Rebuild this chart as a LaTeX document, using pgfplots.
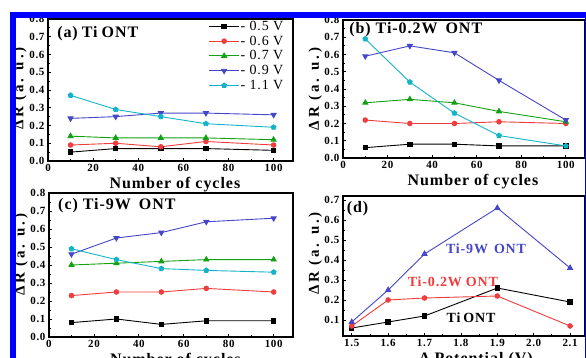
\documentclass[border=0pt]{standalone}
\usepackage{fontspec}
\setmainfont{Liberation Serif}[LetterSpace=6]
\usepackage{pgfplots}
\pgfplotsset{compat=1.18}
\usetikzlibrary{plotmarks}

\definecolor{cR}{RGB}{240,60,60}
\definecolor{cG}{RGB}{20,160,20}
\definecolor{cB}{RGB}{70,70,200}
\definecolor{cC}{RGB}{20,180,200}
\definecolor{frameblue}{RGB}{0,0,255}

\tikzset{ttl/.style={font=\bfseries\fontsize{16}{18}\selectfont, anchor=north west, inner sep=0pt}}

\pgfplotsset{
  panel/.style={
    scale only axis,
    axis line style={line width=1.1pt},
    tick align=inside, tick pos=left,
    major tick length=3pt, minor tick length=1.8pt,
    every tick/.style={line width=0.8pt, black},
    tick label style={font=\bfseries\fontsize{11}{13}\selectfont},
    /pgf/number format/assume math mode=true,
    yticklabel style={/pgf/number format/fixed,/pgf/number format/fixed zerofill,/pgf/number format/precision=1},
    xlabel style={font=\bfseries\fontsize{16}{18}\selectfont, anchor=north, yshift=-13pt},
    ylabel style={font=\bfseries\fontsize{15}{17}\selectfont\addfontfeature{LetterSpace=18}, at={(axis description cs:-0.115,0.5)}, anchor=center},
    ylabel={ΔR (a. u.)},
    every axis plot/.append style={line width=0.9pt},
    clip=false,
  },
  cyc/.style={
    panel, xmin=0, xmax=108.6, ymin=0, ymax=0.8,
    xtick={0,20,40,60,80,100}, minor x tick num=1,
    ytick={0,0.1,...,0.8}, minor y tick num=1,
    xticklabel style={/pgf/number format/fixed,/pgf/number format/precision=0},
    xlabel={Number of cycles},
  },
  sK/.style={black, mark=square*, mark size=2.2pt},
  sR/.style={cR, mark=*, mark size=2.3pt},
  sG/.style={cG, mark=triangle*, mark size=2.9pt},
  sB/.style={cB, mark=triangle*, mark options={rotate=180}, mark size=2.9pt},
  sC/.style={cC, mark=pentagon*, mark size=2.5pt},
}

\begin{document}
\begin{tikzpicture}
\useasboundingbox (0,0) rectangle (586pt,358pt);
\clip (0,0) rectangle (586pt,358pt);
\fill[white] (0,0) rectangle (586pt,358pt);

% (a)
\begin{axis}[cyc, at={(48pt,197pt)}, anchor=south west, width=245pt, height=142pt,
  xlabel style={at={(axis description cs:0.518,0)}},
  ylabel style={at={(axis description cs:-0.115,0.51)}},
  legend style={draw=none, fill=none, at={(0.965,0.995)}, anchor=north east,
    font=\fontsize{14}{15}\selectfont, inner sep=0pt, row sep=2pt,
    nodes={inner sep=1pt}},
  legend cell align=left,
  legend image code/.code={\draw[mark repeat=2,mark phase=2] plot coordinates {(0pt,0pt) (15pt,0pt) (30pt,0pt)};}]
\addplot[sK] coordinates {(10,0.05) (30,0.07) (50,0.07) (70,0.07) (100,0.06)};
\addlegendentry{- 0.5 V}
\addplot[sR] coordinates {(10,0.09) (30,0.10) (50,0.08) (70,0.11) (100,0.09)};
\addlegendentry{- 0.6 V}
\addplot[sG] coordinates {(10,0.14) (30,0.13) (50,0.13) (70,0.13) (100,0.12)};
\addlegendentry{- 0.7 V}
\addplot[sB] coordinates {(10,0.24) (30,0.25) (50,0.27) (70,0.27) (100,0.26)};
\addlegendentry{- 0.9 V}
\addplot[sC] coordinates {(10,0.37) (30,0.29) (50,0.25) (70,0.21) (100,0.19)};
\addlegendentry{- 1.1 V}
\node[ttl] at (rel axis cs:0.037,0.95) {(a)\hspace{4pt}Ti\hspace{4pt}ONT};
\end{axis}

% (b)
\begin{axis}[cyc, at={(343pt,200pt)}, anchor=south west, width=242pt, height=138pt,
  xlabel style={at={(axis description cs:0.537,0)}}]
\addplot[sK] coordinates {(10,0.06) (30,0.08) (50,0.08) (70,0.07) (100,0.07)};
\addplot[sR] coordinates {(10,0.22) (30,0.20) (50,0.20) (70,0.21) (100,0.20)};
\addplot[sG] coordinates {(10,0.32) (30,0.34) (50,0.32) (70,0.27) (100,0.21)};
\addplot[sB] coordinates {(10,0.59) (30,0.65) (50,0.61) (70,0.45) (100,0.22)};
\addplot[sC] coordinates {(10,0.69) (30,0.44) (50,0.26) (70,0.13) (100,0.07)};
\node[ttl] at (rel axis cs:0.025,0.985) {(b) Ti-0.2W\hspace{8pt}ONT};
\end{axis}

% (c)
\begin{axis}[cyc, at={(49pt,21pt)}, anchor=south west, width=244pt, height=144pt,
  xlabel style={at={(axis description cs:0.518,0)}},
  ylabel style={at={(axis description cs:-0.115,0.57)}}]
\addplot[sK] coordinates {(10,0.08) (30,0.10) (50,0.07) (70,0.09) (100,0.09)};
\addplot[sR] coordinates {(10,0.23) (30,0.25) (50,0.25) (70,0.27) (100,0.25)};
\addplot[sG] coordinates {(10,0.40) (30,0.41) (50,0.42) (70,0.43) (100,0.43)};
\addplot[sB] coordinates {(10,0.46) (30,0.55) (50,0.58) (70,0.64) (100,0.66)};
\addplot[sC] coordinates {(10,0.49) (30,0.43) (50,0.38) (70,0.37) (100,0.36)};
\node[ttl] at (rel axis cs:0.037,0.965) {(c) Ti-9W\hspace{8pt}ONT};
\end{axis}

% (d)
\begin{axis}[panel, at={(343pt,22pt)}, anchor=south west, width=242pt, height=140pt,
  xmin=1.476, xmax=2.141, ymin=0.02, ymax=0.72,
  xtick={1.5,1.6,1.7,1.8,1.9,2.0,2.1}, minor x tick num=1,
  ytick={0.1,0.2,0.3,0.4,0.5,0.6,0.7}, minor y tick num=1,
  xticklabel style={/pgf/number format/fixed,/pgf/number format/fixed zerofill,/pgf/number format/precision=1},
  xlabel={Δ Potential (V)},
  xlabel style={at={(axis description cs:0.55,0)}},
  ylabel style={at={(axis description cs:-0.115,0.59)}}]
\addplot[sK] coordinates {(1.5,0.06) (1.6,0.09) (1.7,0.12) (1.9,0.26) (2.1,0.19)};
\addplot[sR] coordinates {(1.5,0.07) (1.6,0.20) (1.7,0.21) (1.9,0.22) (2.1,0.07)};
\addplot[cB, mark=triangle*, mark size=2.9pt] coordinates {(1.5,0.09) (1.6,0.25) (1.7,0.43) (1.9,0.66) (2.1,0.36)};
\node[ttl] at (rel axis cs:0.015,0.96) {(d)};
\node[font=\bfseries\fontsize{14}{16}\selectfont, text=cB] at (axis cs:1.869,0.455) {Ti-9W\hspace{6pt}ONT};
\node[font=\bfseries\fontsize{14}{16}\selectfont, text=cR] at (axis cs:1.778,0.29) {Ti-0.2W\hspace{4pt}ONT};
\node[font=\bfseries\fontsize{14}{16}\selectfont, text=black] at (axis cs:1.828,0.11) {Ti\hspace{3pt}ONT};
\end{axis}

% blue frame
\fill[frameblue] (10pt,340pt) rectangle (586pt,346pt);
\fill[frameblue] (10pt,0pt) rectangle (16pt,346pt);
\fill[frameblue] (584.6pt,0pt) rectangle (586pt,341pt);
\end{tikzpicture}
\end{document}
